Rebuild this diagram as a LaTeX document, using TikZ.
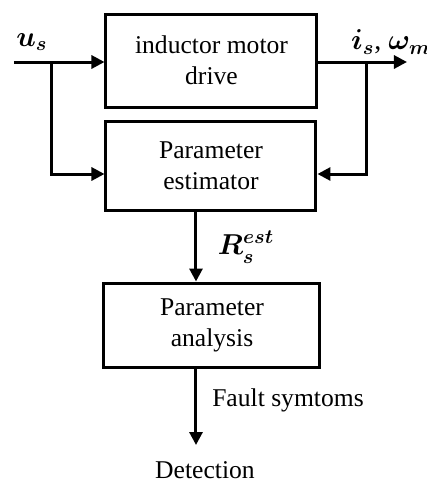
\documentclass[tikz,border=0pt]{standalone}
\usepackage{fontspec}
\setmainfont{Liberation Serif}
\usepackage{tikz}
\usetikzlibrary{arrows.meta}

\begin{document}
\begin{tikzpicture}[x=0.5pt,y=-0.5pt]
\tikzset{block/.style={draw,line width=1.5pt,align=center,inner sep=0pt,
    font=\fontsize{12.8}{15.5}\selectfont},
  lbl/.style={font=\fontsize{12.8}{15.5}\selectfont,inner sep=0pt},
  mlbl/.style={font=\fontsize{14}{16}\selectfont\boldmath,inner sep=0pt},
  flow/.style={line width=1.5pt,-{Triangle[length=6.5pt,width=6.5pt]}}}
\useasboundingbox (0,0) rectangle (427,484);
\node[block,minimum width=105.5pt,minimum height=46.5pt] (drive) at (211.5,60.5) {inductor motor\\drive};
\node[block,minimum width=105pt,minimum height=44.5pt] (estim) at (211,165.5) {Parameter\\estimator};
\node[block,minimum width=108pt,minimum height=42pt] (analysis) at (212,325) {Parameter\\analysis};
\coordinate (us) at (14,62);
\coordinate (split) at (52,62);
\coordinate (estin) at (52,174);
\coordinate (out) at (407,62);
\coordinate (fb) at (367,62);
\coordinate (rs) at (196,250);
\coordinate (det) at (196,445);
\draw[flow] (us) -- (us -| drive.west);
\draw[flow] (split) |- (estin -| estim.west);
\draw[flow] (out -| drive.east) -- (out);
\draw[flow] (fb) |- (estin -| estim.east);
\draw[flow] (rs |- estim.south) -- (rs |- analysis.north);
\draw[flow] (det |- analysis.south) -- (det);
\node[mlbl] (uslabel) at (32,42) {$u_s$};
\node[mlbl] (outlabel) at (391,42) {$i_s$, $\omega_m$};
\node[mlbl] (rslabel) at (246,247) {$R_s^{est}$};
\node[lbl] (fault) at (288,400) {Fault symtoms};
\node[lbl] (detection) at (205,470) {Detection};
\end{tikzpicture}
\end{document}
